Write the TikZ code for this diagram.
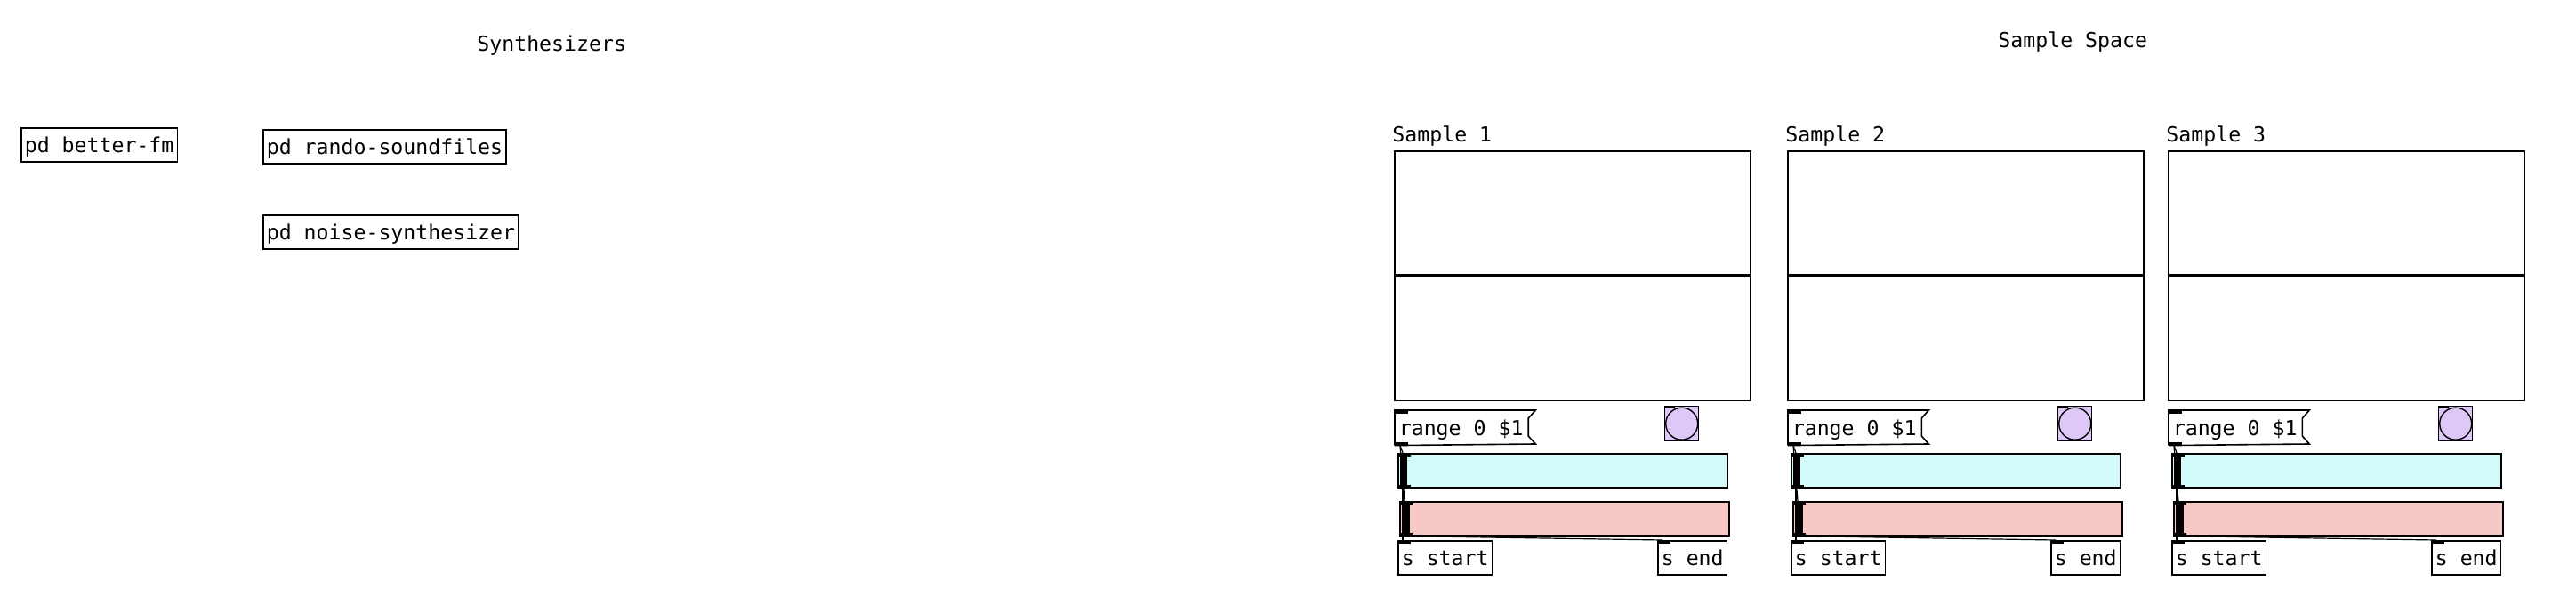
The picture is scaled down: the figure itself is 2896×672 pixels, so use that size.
\documentclass[tikz,border=0pt]{standalone}
\usepackage{fontspec}
\usepackage{tikz}
\newfontfamily\pdfont{DejaVu Sans Mono}
\definecolor{cy}{RGB}{210, 250, 251}
\definecolor{pk}{RGB}{246, 200, 198}
\definecolor{lv}{RGB}{222, 200, 248}
\usetikzlibrary{positioning}
\tikzset{
  pdtext/.style={anchor=base west, inner sep=0pt, font=\pdfont\fontsize{11.6}{14}\selectfont},
  pdbox/.style={draw, line width=0.8pt, anchor=north west, font=\pdfont\fontsize{11.6}{14}\selectfont,
    inner xsep=2pt, inner ysep=5.25pt, text height=8.5pt, text depth=0pt},
  pdmsg/.style={pdbox, draw=none},
  arraybox/.style={draw, line width=0.8pt, anchor=north west, minimum width=200pt, minimum height=140pt, inner sep=0pt},
  slider/.style={draw, line width=0.8pt, anchor=north west, minimum width=185pt, minimum height=19pt, inner sep=0pt},
  bangbox/.style={draw, line width=0.7pt, fill=lv, anchor=north west, minimum width=19pt, minimum height=19.5pt, inner sep=0pt},
  bangdot/.style={circle, draw, line width=0.7pt, minimum size=18pt, inner sep=0pt},
  wire/.style={line width=0.6pt, color=black}
}

\begin{document}
\begin{tikzpicture}[scale=0.5]
\useasboundingbox (0pt, 0pt) rectangle (2896pt, -672pt);
% headings
\node (synth) [pdtext] at (536.0pt, -58.0pt) {Synthesizers};
\node (space) [pdtext] at (2246.0pt, -54.0pt) {Sample Space};
% subpatches
\node (fm) [pdbox] at (23.0pt, -143.0pt) {pd better-fm};
\node (rando) [pdbox] at (295.0pt, -145.0pt) {pd rando-soundfiles};
\node (noise) [pdbox] at (295.0pt, -241.0pt) {pd noise-synthesizer};
% sample 1
\node (l1) [pdtext] at (1565.0pt, -160.0pt) {Sample 1};
\node (a1) [arraybox] at (1567.0pt, -169.0pt) {};
\node (m1) [pdmsg] at (1568.0pt, -461.0pt) {range 0 \$1};
\node (b1) [bangbox] at (1871.0pt, -456.0pt) {};
\node (d1) [bangdot] at (b1.center) {};
\node (c1) [slider, fill=cy] at (1571.0pt, -509.0pt) {};
\node (p1) [slider, fill=pk] at (1573.0pt, -563.0pt) {};
\node (st1) [pdbox] at (1571.0pt, -607.0pt) {s start};
\node (se1) [pdbox] at (1863.0pt, -607.0pt) {s end};
% sample 2
\node (l2) [pdtext] at (2007.0pt, -160.0pt) {Sample 2};
\node (a2) [arraybox] at (2009.0pt, -169.0pt) {};
\node (m2) [pdmsg] at (2010.0pt, -461.0pt) {range 0 \$1};
\node (b2) [bangbox] at (2313.0pt, -456.0pt) {};
\node (d2) [bangdot] at (b2.center) {};
\node (c2) [slider, fill=cy] at (2013.0pt, -509.0pt) {};
\node (p2) [slider, fill=pk] at (2015.0pt, -563.0pt) {};
\node (st2) [pdbox] at (2013.0pt, -607.0pt) {s start};
\node (se2) [pdbox] at (2305.0pt, -607.0pt) {s end};
% sample 3
\node (l3) [pdtext] at (2435.0pt, -160.0pt) {Sample 3};
\node (a3) [arraybox] at (2437.0pt, -169.0pt) {};
\node (m3) [pdmsg] at (2438.0pt, -461.0pt) {range 0 \$1};
\node (b3) [bangbox] at (2741.0pt, -456.0pt) {};
\node (d3) [bangdot] at (b3.center) {};
\node (c3) [slider, fill=cy] at (2441.0pt, -509.0pt) {};
\node (p3) [slider, fill=pk] at (2443.0pt, -563.0pt) {};
\node (st3) [pdbox] at (2441.0pt, -607.0pt) {s start};
\node (se3) [pdbox] at (2733.0pt, -607.0pt) {s end};
% array centre lines
\draw [line width=1.5pt] (a1.west) to (a1.east);
\draw [line width=1.5pt] (a2.west) to (a2.east);
\draw [line width=1.5pt] (a3.west) to (a3.east);
% message flags
\draw [line width=0.8pt] (m1.south west) -- (m1.north west) -- (m1.north east) -- ++(9pt,0) -- ++(-8pt,-9pt) -- ++(0,-20pt) -- ++(8pt,-9pt) -- (m1.south west);
\draw [line width=0.8pt] (m2.south west) -- (m2.north west) -- (m2.north east) -- ++(9pt,0) -- ++(-8pt,-9pt) -- ++(0,-20pt) -- ++(8pt,-9pt) -- (m2.south west);
\draw [line width=0.8pt] (m3.south west) -- (m3.north west) -- (m3.north east) -- ++(9pt,0) -- ++(-8pt,-9pt) -- ++(0,-20pt) -- ++(8pt,-9pt) -- (m3.south west);
% slider knobs
\fill (c1.north west) ++(3pt,0) rectangle ++(8pt,-38pt);
\fill (p1.north west) ++(4pt,0) rectangle ++(8pt,-38pt);
\fill (c2.north west) ++(3pt,0) rectangle ++(8pt,-38pt);
\fill (p2.north west) ++(4pt,0) rectangle ++(8pt,-38pt);
\fill (c3.north west) ++(3pt,0) rectangle ++(8pt,-38pt);
\fill (p3.north west) ++(4pt,0) rectangle ++(8pt,-38pt);
% inlets and outlets
\fill (m1.north west) rectangle ++(15pt,-4pt);
\fill (m1.south west) rectangle ++(15pt,4pt);
\fill (b1.north west) rectangle ++(12pt,-3pt);
\fill (c1.north west) rectangle ++(15pt,-4pt);
\fill (c1.south west) rectangle ++(15pt,4pt);
\fill (p1.north west) rectangle ++(15pt,-4pt);
\fill (p1.south west) rectangle ++(15pt,4pt);
\fill (st1.north west) rectangle ++(15pt,-4pt);
\fill (se1.north west) rectangle ++(15pt,-4pt);
\fill (m2.north west) rectangle ++(15pt,-4pt);
\fill (m2.south west) rectangle ++(15pt,4pt);
\fill (b2.north west) rectangle ++(12pt,-3pt);
\fill (c2.north west) rectangle ++(15pt,-4pt);
\fill (c2.south west) rectangle ++(15pt,4pt);
\fill (p2.north west) rectangle ++(15pt,-4pt);
\fill (p2.south west) rectangle ++(15pt,4pt);
\fill (st2.north west) rectangle ++(15pt,-4pt);
\fill (se2.north west) rectangle ++(15pt,-4pt);
\fill (m3.north west) rectangle ++(15pt,-4pt);
\fill (m3.south west) rectangle ++(15pt,4pt);
\fill (b3.north west) rectangle ++(12pt,-3pt);
\fill (c3.north west) rectangle ++(15pt,-4pt);
\fill (c3.south west) rectangle ++(15pt,4pt);
\fill (p3.north west) rectangle ++(15pt,-4pt);
\fill (p3.south west) rectangle ++(15pt,4pt);
\fill (st3.north west) rectangle ++(15pt,-4pt);
\fill (se3.north west) rectangle ++(15pt,-4pt);
% wires
\draw [wire] ([xshift=6pt]m1.south west) to ([xshift=6pt]c1.north west);
\draw [wire] ([xshift=6pt]m1.south west) to ([xshift=6pt]p1.north west);
\draw [wire] ([xshift=6pt]c1.south west) to ([xshift=6pt]st1.north west);
\draw [wire] ([xshift=6pt]p1.south west) to ([xshift=6pt]se1.north west);
\draw [wire] ([xshift=6pt]m2.south west) to ([xshift=6pt]c2.north west);
\draw [wire] ([xshift=6pt]m2.south west) to ([xshift=6pt]p2.north west);
\draw [wire] ([xshift=6pt]c2.south west) to ([xshift=6pt]st2.north west);
\draw [wire] ([xshift=6pt]p2.south west) to ([xshift=6pt]se2.north west);
\draw [wire] ([xshift=6pt]m3.south west) to ([xshift=6pt]c3.north west);
\draw [wire] ([xshift=6pt]m3.south west) to ([xshift=6pt]p3.north west);
\draw [wire] ([xshift=6pt]c3.south west) to ([xshift=6pt]st3.north west);
\draw [wire] ([xshift=6pt]p3.south west) to ([xshift=6pt]se3.north west);
\end{tikzpicture}
\end{document}
